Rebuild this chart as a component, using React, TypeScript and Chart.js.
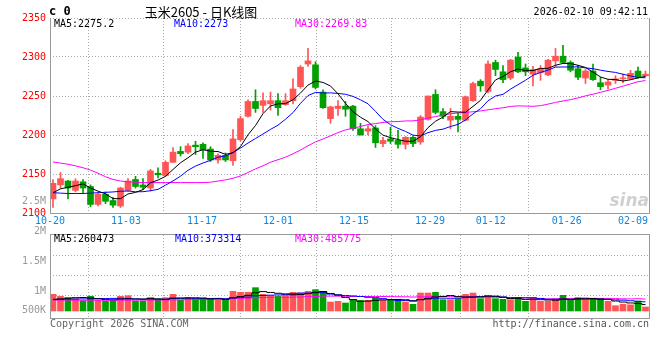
import React, { useEffect, useRef } from 'react';
import { Chart, registerables } from 'chart.js';
Chart.register(...registerables);

// ---------------- data ----------------
const opens = [2118, 2136, 2141, 2129, 2140, 2134, 2111, 2124, 2116, 2109, 2129, 2143, 2136, 2132, 2151, 2148, 2165, 2179, 2178, 2187, 2188, 2182, 2168, 2174, 2167, 2194, 2224, 2243, 2238, 2240, 2244, 2239, 2244, 2262, 2291, 2290, 2255, 2221, 2234, 2237, 2237, 2208, 2205, 2209, 2189, 2195, 2193, 2188, 2197, 2191, 2220, 2252, 2230, 2219, 2224, 2219, 2244, 2269, 2256, 2293, 2281, 2273, 2300, 2286, 2278, 2280, 2277, 2295, 2301, 2293, 2285, 2273, 2282, 2267, 2264, 2270, 2272, 2272, 2282, 2276];
const highs = [2143, 2152, 2142, 2144, 2143, 2136, 2126, 2127, 2120, 2133, 2144, 2147, 2144, 2156, 2158, 2167, 2184, 2185, 2189, 2192, 2190, 2185, 2176, 2177, 2207, 2224, 2245, 2258, 2254, 2255, 2253, 2253, 2272, 2289, 2311, 2294, 2258, 2237, 2244, 2243, 2238, 2215, 2212, 2212, 2197, 2210, 2206, 2198, 2199, 2225, 2250, 2258, 2234, 2234, 2228, 2250, 2268, 2271, 2295, 2296, 2289, 2297, 2306, 2291, 2288, 2289, 2297, 2311, 2315, 2295, 2289, 2284, 2291, 2274, 2271, 2276, 2278, 2283, 2287, 2282];
const lows = [2107, 2132, 2118, 2127, 2126, 2108, 2109, 2112, 2107, 2107, 2128, 2132, 2130, 2128, 2145, 2147, 2165, 2173, 2176, 2175, 2170, 2166, 2164, 2166, 2161, 2192, 2223, 2229, 2229, 2232, 2225, 2238, 2240, 2260, 2288, 2259, 2234, 2215, 2225, 2224, 2206, 2200, 2200, 2184, 2185, 2189, 2183, 2182, 2185, 2188, 2219, 2227, 2221, 2208, 2204, 2218, 2243, 2256, 2254, 2276, 2267, 2271, 2280, 2276, 2263, 2270, 2276, 2288, 2292, 2281, 2271, 2266, 2270, 2258, 2259, 2266, 2267, 2271, 2273, 2275];
const closes = [2138, 2144, 2132, 2141, 2132, 2111, 2124, 2115, 2110, 2132, 2141, 2134, 2133, 2154, 2149, 2165, 2178, 2176, 2186, 2185, 2181, 2168, 2174, 2168, 2195, 2221, 2243, 2234, 2244, 2244, 2235, 2244, 2259, 2287, 2295, 2261, 2235, 2236, 2237, 2233, 2208, 2200, 2208, 2190, 2193, 2192, 2188, 2197, 2189, 2223, 2250, 2229, 2224, 2224, 2220, 2249, 2266, 2263, 2291, 2284, 2271, 2296, 2281, 2281, 2284, 2285, 2296, 2301, 2293, 2283, 2274, 2282, 2271, 2262, 2268, 2272, 2273, 2279, 2274, 2278];

const ma5 = [2126, 2131, 2133, 2135, 2137.4, 2132.0, 2128.0, 2124.6, 2118.4, 2118.4, 2124.4, 2126.4, 2130.0, 2138.8, 2142.2, 2147.0, 2155.8, 2164.4, 2170.8, 2178.0, 2181.2, 2179.2, 2178.8, 2175.2, 2177.2, 2185.2, 2200.2, 2212.2, 2227.4, 2237.2, 2240.0, 2240.2, 2245.2, 2253.8, 2264.0, 2269.2, 2267.4, 2262.8, 2252.8, 2240.4, 2229.8, 2222.8, 2217.2, 2207.8, 2199.8, 2196.6, 2194.2, 2192.0, 2191.8, 2197.8, 2209.4, 2217.6, 2223.0, 2230.0, 2229.4, 2229.2, 2236.6, 2244.4, 2257.8, 2270.6, 2275.0, 2281.0, 2284.6, 2282.6, 2282.6, 2285.4, 2285.4, 2289.4, 2291.8, 2291.6, 2289.4, 2286.6, 2280.6, 2274.4, 2271.4, 2271.0, 2269.2, 2270.8, 2273.2, 2275.2];
const ma10 = [2126, 2125.5, 2125, 2125, 2125, 2125.5, 2126, 2126.5, 2127, 2127.9, 2128.2, 2127.2, 2127.3, 2128.6, 2130.3, 2135.7, 2141.1, 2147.2, 2154.8, 2160.1, 2164.1, 2167.5, 2171.6, 2173.0, 2177.6, 2183.2, 2189.7, 2195.5, 2201.3, 2207.2, 2212.6, 2220.2, 2228.7, 2240.6, 2250.6, 2254.6, 2253.8, 2254.0, 2253.3, 2252.2, 2249.5, 2245.1, 2240.0, 2230.3, 2220.1, 2213.2, 2208.5, 2204.6, 2199.8, 2198.8, 2203.0, 2205.9, 2207.5, 2210.9, 2213.6, 2219.3, 2227.1, 2233.7, 2243.9, 2250.0, 2252.1, 2258.8, 2264.5, 2270.2, 2276.6, 2280.2, 2283.2, 2287.0, 2287.2, 2287.1, 2287.4, 2286.0, 2285.0, 2283.1, 2281.5, 2280.2, 2277.9, 2275.7, 2273.8, 2273.3];
const ma30 = [2165.5, 2164, 2162.5, 2160.5, 2158, 2155, 2151, 2146.5, 2143, 2141, 2140, 2139.5, 2139, 2139, 2139, 2139, 2139, 2139, 2139, 2139, 2139, 2139.5, 2141, 2142.5, 2144.5, 2147.5, 2152, 2156.5, 2160.5, 2165.1, 2168.3, 2171.6, 2175.9, 2180.7, 2186.2, 2191.2, 2194.9, 2198.9, 2203.1, 2206.5, 2208.7, 2210.9, 2213.4, 2214.6, 2216.1, 2217.0, 2217.3, 2218.0, 2218.1, 2219.4, 2221.7, 2223.7, 2225.4, 2227.3, 2228.1, 2229.0, 2229.8, 2230.8, 2232.3, 2233.7, 2234.9, 2236.6, 2237.3, 2237.1, 2236.8, 2237.6, 2239.6, 2241.8, 2243.6, 2245.3, 2247.5, 2250.2, 2252.3, 2254.7, 2257.2, 2259.9, 2262.7, 2265.5, 2268.3, 2269.8];

// volumes in thousands of lots
const volumeK = [675, 594, 540, 500, 419, 594, 432, 405, 405, 594, 621, 405, 405, 540, 459, 540, 675, 432, 540, 486, 500, 500, 432, 432, 797, 756, 756, 945, 675, 621, 594, 635, 756, 729, 797, 864, 797, 365, 392, 324, 432, 432, 432, 527, 432, 473, 473, 365, 270, 729, 729, 756, 459, 459, 500, 675, 729, 500, 594, 500, 473, 459, 527, 392, 527, 392, 392, 486, 635, 432, 540, 486, 432, 500, 392, 215, 275, 250, 400, 162];
const volMa5K = [470, 490, 520, 540, 545.6, 529.4, 497, 470, 451, 486, 491.4, 486, 486, 513, 486, 469.8, 523.8, 529.2, 529.2, 534.6, 526.6, 491.6, 491.6, 470, 532.2, 583.4, 634.6, 737.2, 785.8, 750.6, 718.2, 694, 656.2, 667, 702.2, 756.2, 788.6, 710.4, 643, 548.4, 462, 389, 402.4, 429.4, 451, 459.2, 467.4, 454, 402.6, 462, 513.2, 569.8, 588.6, 626.4, 580.6, 569.8, 564.4, 572.6, 599.6, 599.6, 559.2, 505.2, 510.6, 470.2, 475.6, 459.4, 446, 437.8, 486.4, 467.4, 497, 515.8, 505, 478, 470, 405, 362.8, 326.4, 306.4, 260.5];
const volMa10K = [470, 475, 480, 485, 490, 495, 500, 505, 510, 515.8, 510.4, 491.5, 478, 482, 486, 480.6, 504.9, 507.6, 521.1, 510.3, 498.2, 507.7, 510.4, 499.6, 533.4, 555, 563.1, 614.4, 627.9, 641.4, 650.8, 664.3, 696.7, 726.4, 726.4, 737.2, 741.3, 683.3, 655, 625.3, 609.1, 588.8, 556.4, 536.2, 499.7, 460.6, 428.2, 428.2, 416, 456.5, 486.2, 518.6, 521.3, 514.5, 521.3, 541.5, 567.1, 580.6, 613, 590.1, 564.5, 534.8, 541.6, 534.9, 537.6, 509.3, 475.6, 474.2, 478.3, 471.5, 478.2, 480.9, 471.4, 482.2, 468.7, 451, 439.3, 415.7, 392.2, 373.3];
const volMa30K = [440, 440, 438, 438, 436, 436, 436, 436, 436, 438, 440, 440, 442, 444, 446, 448, 452, 456, 460, 465, 470, 476, 482, 490, 500, 512, 524, 537, 548, 555.8, 553.1, 554.5, 561.7, 569.3, 581.9, 590.9, 603.1, 601.8, 601.3, 592.3, 586.0, 586.9, 587.8, 587.4, 586.5, 584.3, 577.5, 575.3, 566.3, 574.4, 582.0, 590.6, 591.5, 592.4, 582.5, 579.8, 578.9, 564.0, 561.3, 557.3, 553.3, 547.4, 539.8, 528.5, 519.5, 503.8, 490.3, 494.3, 502.4, 506.0, 509.6, 511.4, 511.4, 510.5, 509.2, 500.6, 494.0, 490.2, 494.5, 485.8];

const dateLabels = ['10-20', '11-03', '11-17', '12-01', '12-15', '12-29', '01-12', '01-26', '02-09'];
const dateIndex = [0, 10, 20, 30, 40, 50, 58, 68, 78];
const priceTicks = [2100, 2150, 2200, 2250, 2300, 2350];
const volLabelText = ['2.5M', '2M', '1.5M', '1M', '500K'];
const volLabelValue = [2500000, 2000000, 1500000, 1000000, 500000];

const titleText = '玉米2605 - 日K线图';
const codeText = 'c 0';
const timeText = '2026-02-10 09:42:11';
const priceLegend = ['MA5:2275.2', 'MA10:2273', 'MA30:2269.83'];
const volLegend = ['MA5:260473', 'MA10:373314', 'MA30:485775'];
const copyrightText = 'Copyright 2026 SINA.COM';
const urlText = 'http://finance.sina.com.cn';

// ---------------- styles ----------------
const MONO = '"DejaVu Sans Mono", "Liberation Mono", monospace';
const RED = '#ff5555';
const GREEN = '#00a000';
const GRID = '#aaaaaa';
const BORDER = '#999999';
const DATE_COLOR = '#1584d8';
const MA_COLORS = ['#000000', '#0000ff', '#ff00ff'];
const X_MIN = -0.4;
const X_MAX = 79.6;
const GRID_FACTOR = 7.6 / 7.5; // sina places date grid a little wider than candle slots
const VOL_MIN = -283500;
const VOL_MAX = 3078000;

const idx = closes.map((_, i) => i);
const candleColors = closes.map((c, i) => (c >= opens[i] ? RED : GREEN));
const lastTick = dateIndex.length - 1;

const xGridColor = (c: any) => (c.index === 0 || c.index === lastTick ? 'rgba(0,0,0,0)' : GRID);

function xScale(): any {
  return {
    type: 'linear',
    min: X_MIN,
    max: X_MAX,
    offset: false,
    afterBuildTicks: (s: any) => {
      s.ticks = dateIndex.map((k) => ({ value: X_MIN + k * GRID_FACTOR }));
    },
    afterFit: (s: any) => {
      s.height = 0;
    },
    ticks: { display: false },
    grid: { color: xGridColor, drawTicks: false, lineWidth: 1 },
    border: { display: false, dash: [1, 2] },
  };
}

const mainDecor = {
  id: 'mainDecor',
  afterDraw(chart: any) {
    const { ctx, chartArea: a, scales } = chart;
    ctx.save();
    ctx.setLineDash([]);
    ctx.strokeStyle = BORDER;
    ctx.lineWidth = 1;
    ctx.beginPath();
    ctx.moveTo(a.left + 0.5, a.top);
    ctx.lineTo(a.left + 0.5, a.bottom + 0.5);
    ctx.lineTo(a.right - 0.5, a.bottom + 0.5);
    ctx.lineTo(a.right - 0.5, a.top);
    ctx.stroke();

    // date labels
    ctx.font = `10px ${MONO}`;
    ctx.fillStyle = DATE_COLOR;
    ctx.textAlign = 'center';
    ctx.textBaseline = 'middle';
    dateLabels.forEach((t, j) => {
      let x = scales.x.getPixelForValue(X_MIN + dateIndex[j] * GRID_FACTOR);
      const w = ctx.measureText(t).width;
      x = Math.min(x, a.right - 2 - w / 2);
      ctx.fillText(t, x, a.bottom + 8);
    });

    // header
    ctx.textAlign = 'left';
    ctx.fillStyle = '#000';
    ctx.font = `bold 12px ${MONO}`;
    ctx.fillText(codeText, 49, 12);
    ctx.font = '13px "Noto Sans CJK SC", sans-serif';
    ctx.textAlign = 'center';
    ctx.fillText(titleText, 201, 12);
    ctx.font = `10px ${MONO}`;
    ctx.textAlign = 'right';
    ctx.fillText(timeText, 648, 12);

    // legend
    ctx.textAlign = 'left';
    const lx = [54, 174, 295];
    priceLegend.forEach((t, j) => {
      ctx.fillStyle = MA_COLORS[j];
      ctx.fillText(t, lx[j], a.top + 6);
    });

    // watermark
    ctx.font = 'italic bold 17px "DejaVu Sans", sans-serif';
    ctx.fillStyle = 'rgba(150,150,150,0.45)';
    ctx.textAlign = 'right';
    ctx.textBaseline = 'alphabetic';
    ctx.fillText('sina', a.right - 1, a.bottom - 7);
    ctx.restore();
  },
};

const volDecor = {
  id: 'volDecor',
  afterDraw(chart: any) {
    const { ctx, chartArea: a, scales } = chart;
    ctx.save();
    ctx.setLineDash([]);
    ctx.strokeStyle = BORDER;
    ctx.lineWidth = 1;
    ctx.strokeRect(a.left + 0.5, a.top - 0.5, a.right - a.left - 1, a.bottom - a.top + 1);

    ctx.font = `10px ${MONO}`;
    ctx.textBaseline = 'middle';
    ctx.textAlign = 'right';
    ctx.fillStyle = '#999999';
    volLabelText.forEach((t, j) => {
      let y = scales.yl.getPixelForValue(volLabelValue[j]);
      y = Math.min(y, a.bottom - 8);
      ctx.fillText(t, a.left - 4, y);
    });

    ctx.textAlign = 'left';
    const lx = [54, 175, 295];
    volLegend.forEach((t, j) => {
      ctx.fillStyle = MA_COLORS[j];
      ctx.fillText(t, lx[j], a.top + 4);
    });

    ctx.fillStyle = '#666666';
    ctx.fillText(copyrightText, 50, a.bottom + 6);
    ctx.textAlign = 'right';
    ctx.fillStyle = '#555555';
    ctx.fillText(urlText, 649, a.bottom + 6);
    ctx.restore();
  },
};

function maLine(values: number[], color: string, yAxisID: string, stepped: any) {
  return {
    type: 'line',
    data: idx.map((i) => ({ x: i, y: values[i] })),
    borderColor: color,
    borderWidth: 1,
    pointRadius: 0,
    tension: 0,
    stepped,
    yAxisID,
    order: 0,
  };
}

export default function App() {
  const refA = useRef<HTMLCanvasElement>(null);
  const refB = useRef<HTMLCanvasElement>(null);

  useEffect(() => {
    const mainChart = new Chart(refA.current as HTMLCanvasElement, {
      type: 'bar',
      data: {
        datasets: [
          {
            type: 'bar',
            data: idx.map((i) => ({ x: i, y: [lows[i], highs[i]] })),
            backgroundColor: candleColors,
            barThickness: 1,
            grouped: false,
            borderWidth: 0,
            yAxisID: 'y',
            order: 2,
          },
          {
            type: 'bar',
            data: idx.map((i) => ({ x: i, y: [Math.min(opens[i], closes[i]), Math.max(opens[i], closes[i])] })),
            backgroundColor: candleColors,
            barThickness: 6,
            minBarLength: 1,
            grouped: false,
            borderWidth: 0,
            yAxisID: 'y',
            order: 1,
          },
          maLine(ma5, MA_COLORS[0], 'y', false),
          maLine(ma10, MA_COLORS[1], 'y', false),
          maLine(ma30, MA_COLORS[2], 'y', false),
        ] as any,
      },
      options: {
        responsive: false,
        animation: false,
        devicePixelRatio: 1,
        events: [],
        layout: { padding: { top: 18, right: 10, bottom: 147, left: 0 } },
        plugins: { legend: { display: false }, tooltip: { enabled: false } },
        scales: {
          x: xScale(),
          y: {
            type: 'linear',
            position: 'left',
            min: 2100,
            max: 2350,
            afterBuildTicks: (s: any) => {
              s.ticks = priceTicks.map((v) => ({ value: v }));
            },
            afterFit: (s: any) => {
              s.width = 50;
            },
            ticks: {
              color: '#ff0000',
              font: { family: MONO, size: 10 },
              padding: 4,
              callback: (v: any) => String(v),
            },
            grid: { color: GRID, drawTicks: false, lineWidth: 1 },
            border: { display: false, dash: [1, 2] },
          },
        },
      } as any,
      plugins: [mainDecor],
    });

    const volChart = new Chart(refB.current as HTMLCanvasElement, {
      type: 'bar',
      data: {
        datasets: [
          {
            type: 'bar',
            data: idx.map((i) => ({ x: i, y: volumeK[i] * 1000 })),
            backgroundColor: candleColors,
            barThickness: 6,
            grouped: false,
            borderWidth: 0,
            yAxisID: 'yv',
            order: 1,
          },
          maLine(volMa5K.map((v) => v * 1000), MA_COLORS[0], 'yv', 'middle'),
          maLine(volMa10K.map((v) => v * 1000), MA_COLORS[1], 'yv', 'middle'),
          maLine(volMa30K.map((v) => v * 1000), MA_COLORS[2], 'yv', 'middle'),
        ] as any,
      },
      options: {
        responsive: false,
        animation: false,
        devicePixelRatio: 1,
        events: [],
        layout: { padding: { top: 235, right: 10, bottom: 42, left: 0 } },
        plugins: { legend: { display: false }, tooltip: { enabled: false } },
        scales: {
          x: xScale(),
          yg: {
            type: 'linear',
            position: 'left',
            min: 0,
            max: 4.15,
            reverse: true,
            afterBuildTicks: (s: any) => {
              s.ticks = [1, 2, 3].map((v) => ({ value: v }));
            },
            afterFit: (s: any) => {
              s.width = 50;
            },
            ticks: { display: false },
            grid: { color: GRID, drawTicks: false, lineWidth: 1 },
            border: { display: false, dash: [1, 2] },
          },
          yv: { type: 'linear', display: false, min: VOL_MIN, max: VOL_MAX },
          yl: { type: 'linear', display: false, min: 550000, max: 1933333 },
        },
      } as any,
      plugins: [volDecor],
    });

    return () => {
      mainChart.destroy();
      volChart.destroy();
    };
  }, []);

  return (
    <div style={{ position: 'fixed', left: 0, top: 0, width: 660, height: 360, background: '#ffffff' }}>
      <canvas ref={refA} width={660} height={360} style={{ position: 'absolute', left: 0, top: 0 }} />
      <canvas ref={refB} width={660} height={360} style={{ position: 'absolute', left: 0, top: 0 }} />
    </div>
  );
}
